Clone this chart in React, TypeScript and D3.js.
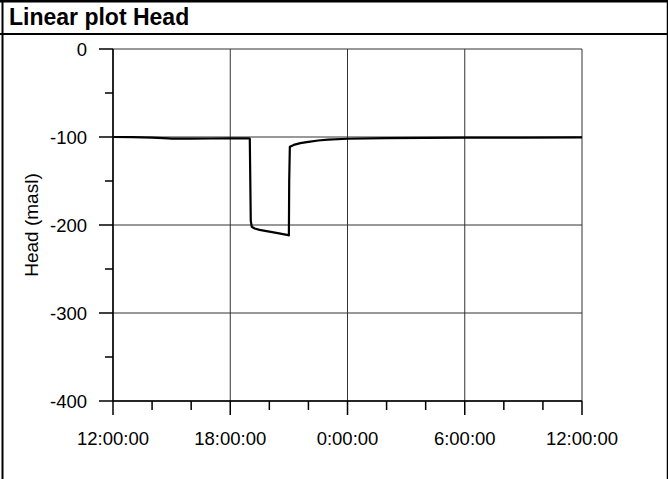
import React from "react";
import * as d3 from "d3";

// ---- data ----
const times: string[] = [
  "2000-01-01T12:00", "2000-01-01T13:00", "2000-01-01T14:00", "2000-01-01T14:50",
  "2000-01-01T15:00", "2000-01-01T16:00", "2000-01-01T17:00", "2000-01-01T18:00",
  "2000-01-01T18:50", "2000-01-01T18:58", "2000-01-01T19:00", "2000-01-01T19:03",
  "2000-01-01T19:06", "2000-01-01T19:15", "2000-01-01T19:30", "2000-01-01T20:00",
  "2000-01-01T20:30", "2000-01-01T20:58", "2000-01-01T21:00", "2000-01-01T21:01",
  "2000-01-01T21:03", "2000-01-01T21:15", "2000-01-01T21:35", "2000-01-01T22:00",
  "2000-01-01T22:30", "2000-01-01T23:00", "2000-01-02T00:00", "2000-01-02T02:00",
  "2000-01-02T04:00", "2000-01-02T06:00", "2000-01-02T09:00", "2000-01-02T12:00",
];
const heads: number[] = [
  -100.0, -100.2, -100.6, -101.5,
  -101.8, -101.8, -101.7, -101.6,
  -101.6, -101.5, -102.0, -195.0,
  -202.0, -204.0, -205.5, -207.5,
  -209.5, -211.5, -211.8, -150.0,
  -111.0, -109.0, -107.0, -105.5,
  -104.0, -103.0, -102.0, -101.3,
  -101.0, -100.8, -100.6, -100.5,
];
const yTicks: number[] = [0, -100, -200, -300, -400];
const yMinorTicks: number[] = [-50, -150, -250, -350];
const xDomain: string[] = ["2000-01-01T12:00", "2000-01-02T12:00"];
const titleText = "Linear plot Head";
const yTitle = "Head (masl)";

const W = 668;
const H = 479;
const font = "'Liberation Sans', Arial, sans-serif";

export default function App() {
  const parse = (s: string) => new Date(s);
  const x = d3.scaleTime().domain(xDomain.map(parse)).range([113, 582]);
  const y = d3.scaleLinear().domain([0, -400]).range([49, 401]);
  const xMajor = x.ticks(d3.timeHour.every(6)!);
  const xMinor = x.ticks(d3.timeHour.every(2)!).filter(
    (t) => !xMajor.some((m) => +m === +t)
  );
  const fmt = d3.timeFormat("%-H:%M:%S");
  const data = times.map((t, i) => ({ t: parse(t), v: heads[i] }));
  const line = d3
    .line<{ t: Date; v: number }>()
    .x((d) => x(d.t))
    .y((d) => y(d.v));
  const [x0, x1] = x.range();
  const [y0, y1] = [y(0), y(-400)];
  const grid = "#333";
  return (
    <svg
      width={W}
      height={H}
      style={{ position: "absolute", left: 0, top: 0, background: "#fff" }}
      fontFamily={font}
    >
      {/* frame */}
      <line x1={0} x2={W} y1={1.2} y2={1.2} stroke="#000" strokeWidth={2.4} />
      <line x1={288} x2={288} y1={0} y2={2} stroke="#000" strokeWidth={1.5} />
      <line x1={0} x2={W} y1={34} y2={34} stroke="#000" strokeWidth={2} />
      <line x1={2.5} x2={2.5} y1={0} y2={H} stroke="#000" strokeWidth={2} />
      <line x1={W - 0.5} x2={W - 0.5} y1={0} y2={H} stroke="#000" strokeWidth={1.5} />
      <text x={9} y={25} fontSize={23} fontWeight="bold" fill="#000">
        {titleText}
      </text>

      {/* grid */}
      {yTicks.map((v) => (
        <line key={"gy" + v} x1={x0} x2={x1} y1={y(v)} y2={y(v)} stroke={grid} strokeWidth={1} />
      ))}
      {xMajor.map((t) => (
        <line key={"gx" + +t} x1={x(t)} x2={x(t)} y1={y0} y2={y1} stroke={grid} strokeWidth={1} />
      ))}

      {/* y axis */}
      <line x1={x0} x2={x0} y1={y0} y2={y1} stroke="#000" strokeWidth={1.5} />
      {yTicks.map((v) => (
        <g key={"yt" + v}>
          <line x1={x0 - 14} x2={x0} y1={y(v)} y2={y(v)} stroke="#000" strokeWidth={1.5} />
          <text x={87} y={y(v)} dy="0.36em" textAnchor="end" fontSize={18.5} fill="#000">
            {v}
          </text>
        </g>
      ))}
      {yMinorTicks.map((v) => (
        <line key={"ym" + v} x1={x0 - 8} x2={x0} y1={y(v)} y2={y(v)} stroke="#000" strokeWidth={1.5} />
      ))}

      {/* x axis */}
      <line x1={x0} x2={x1} y1={y1} y2={y1} stroke="#000" strokeWidth={1.5} />
      {xMajor.map((t) => (
        <g key={"xt" + +t}>
          <line x1={x(t)} x2={x(t)} y1={y1} y2={y1 + 14} stroke="#000" strokeWidth={1.5} />
          <text x={x(t)} y={445} textAnchor="middle" fontSize={18.5} fill="#000">
            {fmt(t)}
          </text>
        </g>
      ))}
      {xMinor.map((t) => (
        <line key={"xm" + +t} x1={x(t)} x2={x(t)} y1={y1} y2={y1 + 9} stroke="#000" strokeWidth={1.5} />
      ))}

      {/* y title */}
      <text
        transform={`translate(38, ${(y0 + y1) / 2}) rotate(-90)`}
        textAnchor="middle"
        fontSize={19}
        fill="#000"
      >
        {yTitle}
      </text>

      {/* data */}
      <path d={line(data) || ""} fill="none" stroke="#000" strokeWidth={2.2} strokeLinejoin="round" />
    </svg>
  );
}
